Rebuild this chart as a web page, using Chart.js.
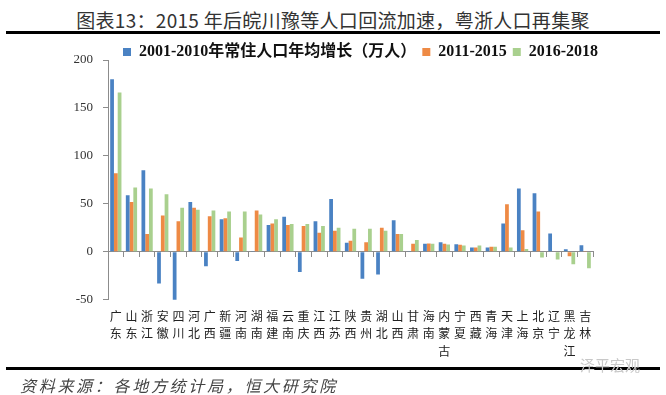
<!DOCTYPE html>
<html>
<head>
<meta charset="utf-8">
<script src="https://cdn.jsdelivr.net/npm/chart.js@4.4.1/dist/chart.umd.min.js"></script>
<style>
  html, body { margin: 0; padding: 0; background: #fff; }
  body { width: 666px; height: 395px; position: relative; overflow: hidden; }
  #title {
    position: absolute; left: 0; top: 6px; width: 666px; text-align: center;
    font: 19px 'Noto Sans CJK SC', sans-serif; color: #333; letter-spacing: 0.3px;
  }
  .rule { position: absolute; left: 6px; width: 654px; background: #000; }
  #source {
    position: absolute; left: 20px; top: 373px;
    font: italic 16px 'Noto Sans CJK SC', sans-serif; color: #444; letter-spacing: 2.7px;
  }
  #mark {
    position: absolute; left: 580px; top: 354px;
    font: 15px 'Noto Sans CJK SC', sans-serif; color: #c8c8c8;
  }
  #wrap { position: absolute; left: 0; top: 0; width: 666px; height: 395px; }
</style>
</head>
<body>
<div id="title">图表13：2015 年后皖川豫等人口回流加速，粤浙人口再集聚</div>
<div class="rule" style="top:31px;height:3px"></div>
<div id="wrap"><canvas id="myChart"></canvas></div>
<div class="rule" style="top:367px;height:3px"></div>
<div id="source">资料来源：各地方统计局，恒大研究院</div>
<div id="mark">泽平宏观</div>
<script>
const blueColor = '#4a82c3'
const orangeColor = '#ee8a45'
const greenColor = '#a9d08e'

const provinces = ['广东', '山东', '浙江', '安徽', '四川', '河北', '广西', '新疆', '河南', '湖南',
  '福建', '云南', '重庆', '江西', '江苏', '陕西', '贵州', '湖北', '山西', '甘肃',
  '海南', '内蒙古', '宁夏', '西藏', '青海', '天津', '上海', '北京', '辽宁', '黑龙江', '吉林']

const growth2001to2010 = [180, 59, 85, -33, -52, 52, -15, 34, -9.5, 1,
  28, 36.5, -21, 32, 55, 9.5, -28, -23.5, 33, 0.4,
  8.4, 10, 8, 4.6, 4.6, 29.5, 66, 61, 19, 2.8, 7]
const growth2011to2015 = [82, 52, 18.6, 38, 32, 46, 37, 35, 15, 43,
  29.5, 28, 27, 20, 22, 11.6, 10, 25, 18.6, 8.4,
  8.8, 8.4, 7.4, 4.6, 5.3, 49.5, 22.5, 42, 0.7, -4.6, 1]
const growth2016to2018 = [166, 67, 66, 60, 46, 44, 43, 42, 42, 39,
  34, 29, 29, 27, 25, 24, 24, 22, 18.6, 12.3,
  8.4, 7.7, 6.7, 6.7, 5.3, 4.6, 3, -6, -8, -13, -17]

const seriesNames = ['2001-2010年常住人口年均增长（万人）', '2011-2015', '2016-2018']

// names are written top to bottom, one character per line
const verticalLabels = provinces.map(function (p) { return p.split('') })

const axisGray = '#8c8c8c'

// the legend sits just above the plot, starting a little right of the y axis
const legendNudge = {
  id: 'legendNudge',
  afterLayout(chart) {
    var lg = chart.legend
    var dx = chart.chartArea.left + 9 - lg.left
    lg.left += dx
    lg.right += dx
    lg.top += 10
    lg.bottom += 10
  }
}

var ctx = document.getElementById('myChart')
var data = {
  labels: verticalLabels,
  datasets: [
    { label: seriesNames[0], data: growth2001to2010, backgroundColor: blueColor },
    { label: seriesNames[1], data: growth2011to2015, backgroundColor: orangeColor },
    { label: seriesNames[2], data: growth2016to2018, backgroundColor: greenColor }
  ]
}

var barChart = new Chart(ctx, {
  type: 'bar',
  data: data,
  plugins: [legendNudge],
  options: {
    responsive: true,
    maintainAspectRatio: false,
    animation: false,
    datasets: { bar: { categoryPercentage: 0.72, barPercentage: 1.0 } },
    layout: { padding: { top: 28, left: 73, right: 73, bottom: 27 } },
    plugins: {
      tooltip: { enabled: false },
      legend: {
        position: 'top',
        align: 'start',
        labels: {
          boxWidth: 8,
          boxHeight: 8,
          padding: 6,
          color: '#111',
          font: { family: "'Liberation Serif', 'Noto Sans CJK SC', serif", size: 16, weight: 'bold' }
        }
      }
    },
    scales: {
      x: {
        grid: { display: false, drawTicks: false },
        border: { display: false },
        ticks: {
          autoSkip: false,
          maxRotation: 0,
          padding: 8,
          color: '#222',
          font: { family: "'Noto Sans CJK SC', sans-serif", size: 12, lineHeight: 1.45 }
        }
      },
      // zero line with category ticks
      x0: {
        type: 'category',
        position: { y: 0 },
        offset: true,
        grid: { offset: true, drawOnChartArea: false, drawTicks: true, tickLength: 5, color: axisGray },
        border: { display: true, color: axisGray, width: 1 },
        ticks: { display: false },
        afterFit: function (scale) { scale.height = 0 }
      },
      y: {
        min: -50,
        max: 200,
        ticks: {
          stepSize: 50,
          padding: 10,
          color: '#333',
          font: { family: "'Liberation Serif', serif", size: 13 }
        },
        grid: { drawOnChartArea: false, drawTicks: true, tickLength: 5, color: axisGray },
        border: { display: true, color: axisGray, width: 1 },
        afterFit: function (scale) { scale.width = 35 }
      }
    }
  }
})
</script>
</body>
</html>
